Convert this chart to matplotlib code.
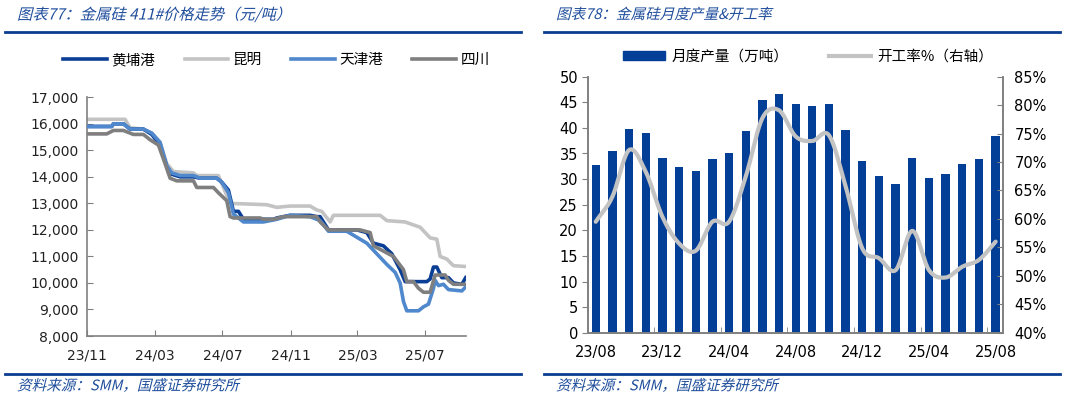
import numpy as np
import pandas as pd
import matplotlib
matplotlib.use("Agg")
from matplotlib import pyplot as plt
import matplotlib.dates as mdates
from matplotlib.ticker import FuncFormatter, FixedLocator
from matplotlib.lines import Line2D
from matplotlib.patches import Patch
from matplotlib.patheffects import AbstractPathEffect
from matplotlib.transforms import Affine2D

plt.rcParams['font.family'] = ['DejaVu Sans', 'Noto Sans CJK SC']

# ---------------- datos figura izquierda: precio 411# ----------------
hp_fechas = ['2023-11-01', '2023-12-15', '2023-12-18', '2024-01-05', '2024-01-17', '2024-02-10',
             '2024-02-25', '2024-03-11', '2024-03-23', '2024-04-01', '2024-04-16', '2024-05-10',
             '2024-05-22', '2024-06-21', '2024-06-30', '2024-07-12', '2024-07-21', '2024-07-30',
             '2024-08-08', '2024-10-01', '2024-10-07', '2024-10-31', '2024-12-06', '2024-12-18',
             '2024-12-24', '2025-01-08', '2025-02-28', '2025-03-18', '2025-03-30', '2025-04-17',
             '2025-05-02', '2025-05-17', '2025-05-26', '2025-07-04', '2025-07-10', '2025-07-16',
             '2025-07-22', '2025-07-31', '2025-08-12', '2025-08-21', '2025-09-05', '2025-09-12']
hp_precio = [15900, 15900, 16000, 16000, 15800, 15800,
             15600, 15200, 14400, 14100, 14000, 14000,
             13950, 13950, 13800, 13500, 12700, 12700,
             12400, 12400, 12450, 12550, 12550, 12500,
             12500, 12000, 12000, 11900, 11500, 11400,
             11100, 10500, 10050, 10050, 10150, 10600,
             10600, 10200, 10200, 10000, 9950, 10200]

km_fechas = ['2023-11-01', '2024-01-08', '2024-01-17', '2024-02-10', '2024-02-25', '2024-03-11',
             '2024-03-23', '2024-04-04', '2024-05-10', '2024-05-16', '2024-06-24', '2024-07-15',
             '2024-09-19', '2024-10-07', '2024-10-31', '2024-12-06', '2024-12-18', '2024-12-27',
             '2025-01-11', '2025-01-17', '2025-04-11', '2025-04-23', '2025-05-26', '2025-06-22',
             '2025-07-10', '2025-07-22', '2025-07-28', '2025-08-09', '2025-08-21', '2025-09-12']
km_precio = [16170, 16170, 15850, 15800, 15650, 15300,
             14500, 14200, 14150, 14050, 14050, 13000,
             12950, 12850, 12900, 12900, 12750, 12700,
             12300, 12550, 12550, 12350, 12300, 12100,
             11700, 11650, 11000, 10900, 10650, 10620]

tj_fechas = ['2023-11-01', '2023-12-15', '2023-12-18', '2024-01-05', '2024-01-17', '2024-02-10',
             '2024-02-25', '2024-03-11', '2024-03-23', '2024-04-01', '2024-04-16', '2024-05-10',
             '2024-05-22', '2024-06-21', '2024-06-30', '2024-07-12', '2024-07-21', '2024-08-08',
             '2024-09-13', '2024-10-07', '2024-10-31', '2024-12-06', '2024-12-24', '2025-01-08',
             '2025-02-10', '2025-02-22', '2025-03-18', '2025-04-05', '2025-04-23', '2025-05-08',
             '2025-05-17', '2025-05-23', '2025-05-29', '2025-06-19', '2025-06-28', '2025-07-07',
             '2025-07-16', '2025-07-19', '2025-07-25', '2025-08-03', '2025-08-12', '2025-09-05',
             '2025-09-12']
tj_precio = [15900, 15900, 16000, 16000, 15800, 15800,
             15650, 15300, 14400, 14150, 14050, 14050,
             13950, 13950, 13800, 13400, 12600, 12300,
             12300, 12400, 12550, 12500, 12350, 11950,
             11950, 11800, 11500, 11100, 10700, 10400,
             10000, 9300, 8950, 8950, 9100, 9200,
             9800, 10100, 9900, 9950, 9750, 9700,
             9850]

sc_fechas = ['2023-11-01', '2023-12-06', '2023-12-18', '2024-01-05', '2024-01-23', '2024-02-10',
             '2024-02-22', '2024-03-08', '2024-03-20', '2024-03-29', '2024-04-10', '2024-05-10',
             '2024-05-16', '2024-06-15', '2024-06-24', '2024-07-09', '2024-07-15', '2024-07-21',
             '2024-09-07', '2024-09-13', '2024-10-01', '2024-10-19', '2024-12-18', '2024-12-24',
             '2025-01-08', '2025-03-06', '2025-03-24', '2025-03-30', '2025-04-17', '2025-05-05',
             '2025-05-23', '2025-05-29', '2025-06-10', '2025-06-19', '2025-06-28', '2025-07-10',
             '2025-07-19', '2025-08-06', '2025-08-12', '2025-08-21', '2025-09-12']
sc_precio = [15620, 15620, 15750, 15750, 15600, 15600,
             15400, 15200, 14500, 13950, 13850, 13850,
             13600, 13600, 13400, 13100, 12500, 12450,
             12450, 12400, 12400, 12500, 12500, 12300,
             12000, 12000, 11900, 11400, 11200, 11000,
             10500, 10050, 10050, 9800, 9650, 9650,
             10300, 10300, 10100, 9950, 9950]

ticks_izq = ['2023-11-01', '2024-03-01', '2024-07-01', '2024-11-01', '2025-03-01', '2025-07-01']

# ---------------- datos figura derecha: produccion y tasa ----------------
meses = ['23/08', '23/09', '23/10', '23/11', '23/12', '24/01', '24/02', '24/03', '24/04',
         '24/05', '24/06', '24/07', '24/08', '24/09', '24/10', '24/11', '24/12', '25/01',
         '25/02', '25/03', '25/04', '25/05', '25/06', '25/07', '25/08']
produccion = [32.7, 35.4, 39.8, 39.1, 34.1, 32.4, 31.6, 33.9, 35.0,
              39.3, 45.4, 46.6, 44.6, 44.2, 44.6, 39.6, 33.6, 30.6,
              29.0, 34.2, 30.2, 30.9, 32.9, 33.9, 38.5]
tasa = [59.5, 63.9, 72.1, 68.3, 60.4, 55.7, 54.4, 59.5, 59.5,
        67.4, 77.7, 79.1, 74.5, 73.7, 74.7, 65.7, 54.8, 53.1,
        51.0, 57.9, 51.0, 49.7, 51.6, 52.8, 56.0]

AZUL = '#1f4e9c'
GRIS_EJE = '#808080'
CJK = ['Noto Sans CJK SC', 'DejaVu Sans']


class Oblicua(AbstractPathEffect):
    # inclina los glifos (la fuente CJK no tiene cursiva)
    def draw_path(self, renderer, gc, tpath, affine, rgbFace=None):
        tx, ty = affine.get_matrix()[:2, 2]
        sesgo = Affine2D().translate(-tx, -ty).skew_deg(14, 0).translate(tx, ty)
        renderer.draw_path(gc, tpath, affine + sesgo, rgbFace)


def suavizado(x, y, n=20):
    # curva tipo catmull-rom para imitar la linea suavizada de excel
    x = np.asarray(x, float)
    y = np.asarray(y, float)
    px = np.concatenate([[2 * x[0] - x[1]], x, [2 * x[-1] - x[-2]]])
    py = np.concatenate([[2 * y[0] - y[1]], y, [2 * y[-1] - y[-2]]])
    xs, ys = [], []
    t = np.linspace(0, 1, n, endpoint=False)
    for i in range(1, len(px) - 2):
        for p, out in ((px, xs), (py, ys)):
            p0, p1, p2, p3 = p[i - 1], p[i], p[i + 1], p[i + 2]
            out.extend(0.5 * ((2 * p1) + (-p0 + p2) * t + (2 * p0 - 5 * p1 + 4 * p2 - p3) * t ** 2
                              + (-p0 + 3 * p1 - 3 * p2 + p3) * t ** 3))
    xs.append(x[-1])
    ys.append(y[-1])
    return np.array(xs), np.array(ys)


fig = plt.figure(figsize=(10.65, 3.98), dpi=100)

# cabeceras y pies
for x0, x1 in ((5, 521), (544, 1060)):
    for yy in (32, 374):
        fig.add_artist(Line2D([x0 / 1065, x1 / 1065], [1 - yy / 398] * 2, color='#0a3d91', lw=2))

fig.text(17 / 1065, 1 - 15 / 398, '图表77：金属硅 411#价格走势（元/吨）', color=AZUL, fontsize=11,
         va='center', family=CJK, path_effects=[Oblicua()])
fig.text(556 / 1065, 1 - 15 / 398, '图表78：金属硅月度产量&开工率', color=AZUL, fontsize=10.5,
         va='center', family=CJK, path_effects=[Oblicua()])
for xx in (17, 556):
    fig.text(xx / 1065, 1 - 386 / 398, '资料来源：SMM，国盛证券研究所', color=AZUL, fontsize=10.5,
             va='center', family=CJK, path_effects=[Oblicua()])

# ---------------- grafico izquierdo ----------------
ax = fig.add_axes([87.3 / 1065, 62 / 398, 378.4 / 1065, 238.7 / 398])
series = [
    ('黄埔港', hp_fechas, hp_precio, '#0b3f96', 2),
    ('昆明', km_fechas, km_precio, '#c3c3c3', 1),
    ('天津港', tj_fechas, tj_precio, '#4f88cc', 3),
    ('四川', sc_fechas, sc_precio, '#7f7f7f', 4),
]
for nombre, f, v, c, z in series:
    ax.plot(pd.to_datetime(f), v, color=c, lw=2.6, label=nombre, zorder=z)

ax.set_xlim(pd.Timestamp('2023-11-01'), pd.Timestamp('2025-09-12'))
ax.set_ylim(8000, 17000)
ax.set_yticks(np.arange(8000, 17001, 1000))
ax.yaxis.set_major_formatter(FuncFormatter(lambda v, p: f'{int(v):,}'))
ax.set_xticks(pd.to_datetime(ticks_izq))
ax.xaxis.set_major_formatter(mdates.DateFormatter('%y/%m'))
for s in ('top', 'right'):
    ax.spines[s].set_visible(False)
for s in ('left', 'bottom'):
    ax.spines[s].set_color(GRIS_EJE)
    ax.spines[s].set_linewidth(1.2)
ax.tick_params(direction='in', length=4, color=GRIS_EJE, labelsize=10, labelcolor='#222222')
ax.tick_params(axis='x', pad=9)
ax.tick_params(axis='y', pad=6)
ax.legend(loc='center', bbox_to_anchor=(0.5, (398 - 60 - 62) / 238.7), ncol=4, frameon=False,
          prop={'family': CJK, 'size': 10.5}, handlelength=3.0, handletextpad=0.3,
          columnspacing=2.0)

# ---------------- grafico derecho ----------------
ax1 = fig.add_axes([587.7 / 1065, 65.3 / 398, 415.6 / 1065, 256 / 398])
x = np.arange(len(meses))
ax1.bar(x, produccion, width=0.5, color='#033f96', zorder=2)
ax1.set_xlim(-0.48, len(meses) - 0.54)
ax1.set_ylim(0, 50)
ax1.set_yticks(np.arange(0, 51, 5))
ax1.set_xticks(x[::4])
ax1.set_xticklabels(meses[::4])
ax1.xaxis.set_minor_locator(FixedLocator(x[3::4] + 0.5))
ax1.tick_params(axis='x', which='major', length=0, pad=9, labelsize=10.5)
ax1.tick_params(axis='x', which='minor', direction='in', length=4, color=GRIS_EJE)
ax1.tick_params(axis='y', direction='out', length=4, color=GRIS_EJE, labelsize=10.5, pad=3)
ax1.spines['top'].set_visible(False)
for s in ('left', 'bottom', 'right'):
    ax1.spines[s].set_color(GRIS_EJE)
    ax1.spines[s].set_linewidth(1.2)

ax2 = ax1.twinx()
xs, ys = suavizado(x, tasa)
ax2.plot(xs, ys, color='#c3c3c3', lw=3, solid_capstyle='round', zorder=3)
ax2.set_ylim(40, 85)
ax2.set_yticks(np.arange(40, 86, 5))
ax2.yaxis.set_major_formatter(FuncFormatter(lambda v, p: f'{int(v)}%'))
ax2.tick_params(axis='y', direction='in', length=4, color=GRIS_EJE, labelsize=10.5, pad=8)
ax2.spines['top'].set_visible(False)
for s in ('left', 'bottom', 'right'):
    ax2.spines[s].set_color(GRIS_EJE)
    ax2.spines[s].set_linewidth(1.2)

manejadores = [Patch(color='#033f96'), Line2D([], [], color='#c3c3c3', lw=3)]
ax1.legend(manejadores, ['月度产量（万吨）', '开工率%（右轴）'], loc='center',
           bbox_to_anchor=(0.53, (398 - 57 - 65.3) / 256), ncol=2, frameon=False,
           prop={'family': CJK, 'size': 10.5}, handlelength=2.9, handleheight=0.6,
           handletextpad=0.4, columnspacing=2.8)

fig.savefig('out.png', dpi=100)
